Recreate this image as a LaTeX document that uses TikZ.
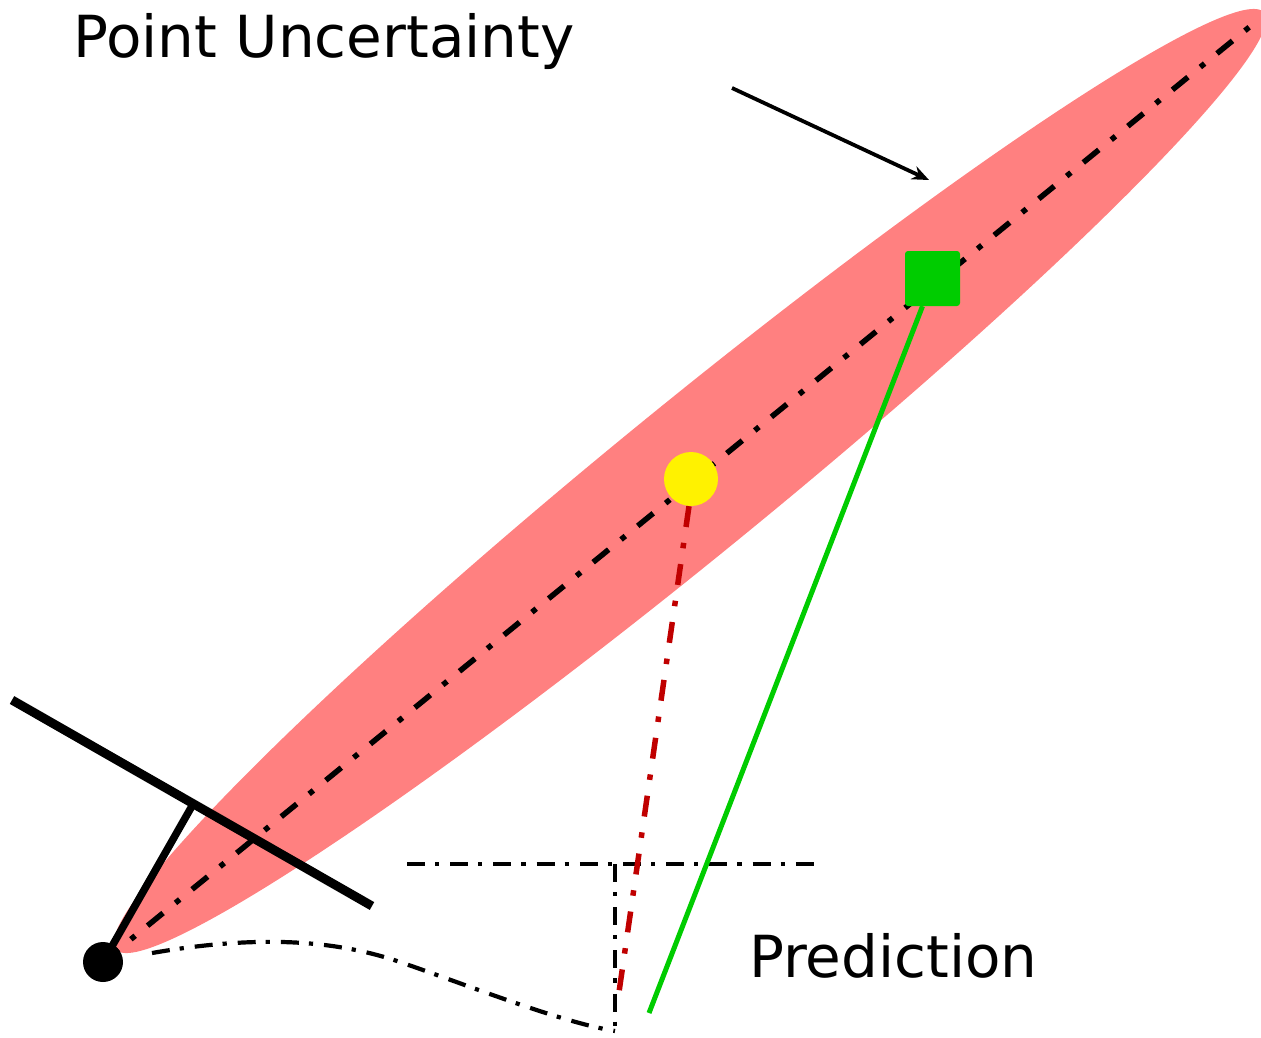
\documentclass[tikz,border=0pt]{standalone}
\usepackage{fontspec}
\setmainfont{DejaVu Sans}
\usetikzlibrary{arrows.meta}
\definecolor{ellpink}{HTML}{FF8080}
\definecolor{predred}{HTML}{C00000}
\definecolor{gtgreen}{HTML}{00CC00}
\begin{document}
\begin{tikzpicture}[x=1pt,y=-1pt,
  axisline/.style={line width=5.5pt, dash pattern=on 20pt off 16pt on 5.5pt off 16pt},
  thinline/.style={line width=4.2pt, dash pattern=on 18pt off 10pt on 4.2pt off 11pt},
  camline/.style={line width=9pt},
  lbl/.style={anchor=base west, inner sep=0pt, font=\fontsize{58}{70}\selectfont}]
\useasboundingbox (0,0) rectangle (1261,1037);
% uncertainty ellipse
\fill[ellpink, rotate around={39.2:(690,481)}] (690,481) ellipse [x radius=741pt, y radius=76pt];
% coordinates
\coordinate (tip) at (1258,20);
\coordinate (camL) at (12,700);
\coordinate (camR) at (372,906);
\coordinate (camM) at (192,806);
\coordinate (hL) at (407,864);
\coordinate (hR) at (822,864);
\coordinate (hM) at (615,864);
\coordinate (vB) at (615,1031);
\coordinate (redEnd) at (617,1006);
\coordinate (greenEnd) at (649,1013);
\coordinate (cs) at (152,953);
\coordinate (cm) at (400,962);
\coordinate (arS) at (732,88);
\coordinate (arE) at (929,180);
% ray through the ellipse
\draw[axisline] (103,962) -- (tip);
% camera
\node[circle, fill=black, minimum size=40pt, inner sep=0pt] (cam) at (103,962) {};
\draw[camline] (camL) -- (camR);
\draw[line width=7.5pt] (cam.center) -- (camM);
% image plane and projections
\draw[thinline] (hL) -- (hR);
\draw[thinline] (hM) -- (vB);
\draw[thinline] (cs) .. controls (250,936) and (330,938) .. (cm) .. controls (470,986) and (560,1022) .. (vB);
% predicted point and ground truth
\node[circle, fill=yellow, minimum size=54pt, inner sep=0pt] (pred) at (691,479) {};
\node[fill=gtgreen, minimum size=55pt, inner sep=0pt, rounded corners=3pt] (gt) at (932.5,278.5) {};
\draw[predred, line width=5.5pt, dash pattern=on 21pt off 16pt on 5.5pt off 16pt] (pred.south) ++(-2,0) -- (redEnd);
\draw[gtgreen, line width=5pt] (gt.south) ++(-10,0) -- (greenEnd);
% arrow
\draw[line width=3.8pt, -{Stealth[length=17pt, width=14pt]}] (arS) -- (arE);
% labels
\node[lbl] (pu) at (73,57) {Point Uncertainty};
\node[lbl] (pr) at (749,977) {Prediction};
\end{tikzpicture}
\end{document}
